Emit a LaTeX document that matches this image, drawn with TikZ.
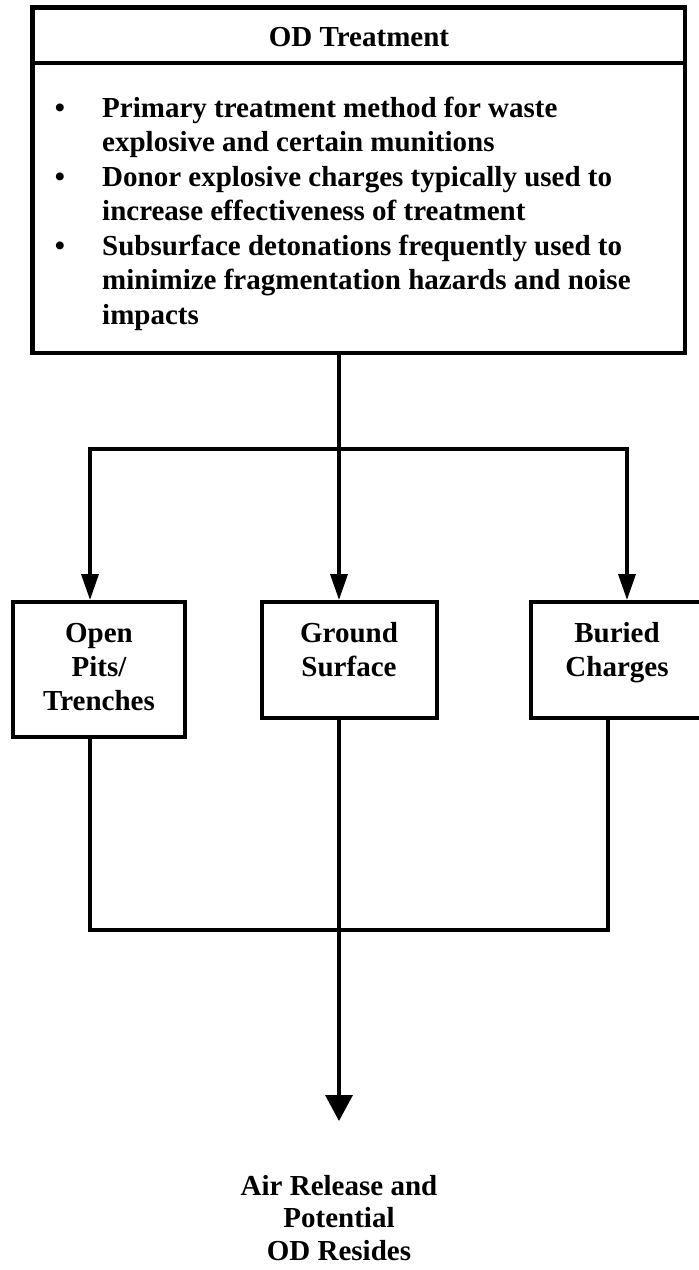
\documentclass[tikz,border=0pt]{standalone}
\usepackage{fontspec}
\setmainfont{Liberation Serif}
\usetikzlibrary{arrows.meta,calc}

\tikzset{
  box/.style={draw, line width=4pt, inner sep=0pt, fill=white},
  txt/.style={inner sep=0pt, font=\fontsize{29pt}{34.5pt}\selectfont\bfseries},
  % multi-line texts are placed by the baseline of their last line
  ctxt/.style={txt, align=center, anchor=base},
  ltxt/.style={txt, align=left, anchor=base west},
  wire/.style={line width=3.5pt, line join=miter},
  sidetip/.tip={Triangle[length=26pt, width=17pt]},
  endtip/.tip={Triangle[length=26pt, width=27pt]},
}

\begin{document}
\begin{tikzpicture}[x=1pt, y=-1pt]
  \useasboundingbox (0,0) rectangle (699,1270);

  % main treatment box with its title band
  \node[box, line width=4.4pt, minimum width=652.5pt, minimum height=345.5pt] (od) at (358.75,180.25) {};
  \draw[line width=4pt] ([yshift=-57.5pt]od.north west) -- ([yshift=-57.5pt]od.north east);
  \node[ctxt] (title) at (359,46.5) {OD Treatment};

  % bullet list
  \node[ctxt] (b1) at (60,117) {\textbullet};
  \node[ctxt] (b2) at (60,186) {\textbullet};
  \node[ctxt] (b3) at (60,255) {\textbullet};
  \node[ltxt] (l1) at (102,151.5) {Primary treatment method for waste\\explosive and certain munitions};
  \node[ltxt] (l2) at (102,220.5) {Donor explosive charges typically used to\\increase effectiveness of treatment};
  \node[ltxt] (l3) at (102,324) {Subsurface detonations frequently used to\\minimize fragmentation hazards and noise\\impacts};

  % the three detonation methods
  \node[box, minimum width=172pt, minimum height=135pt] (pits) at (99,669.5) {};
  \node[box, minimum width=175pt, minimum height=116pt] (ground) at (349.5,660) {};
  \node[box, minimum width=180pt, minimum height=116pt] (buried) at (621,660) {};
  \node[ctxt, font=\fontsize{29pt}{34pt}\selectfont\bfseries] (pitst) at (99,710) {Open\\Pits/\\Trenches};
  \node[ctxt, font=\fontsize{29pt}{34pt}\selectfont\bfseries] (groundt) at (349,676) {Ground\\Surface};
  \node[ctxt, font=\fontsize{29pt}{34pt}\selectfont\bfseries] (buriedt) at (617,676) {Buried\\Charges};

  % branch and merge points
  \coordinate (j) at (339,449);
  \coordinate (bl) at (90,449);
  \coordinate (br) at (627,449);
  \coordinate (ml) at (90,930);
  \coordinate (mc) at (339,930);
  \coordinate (mr) at (608,930);
  \coordinate (out) at (339,1121);

  % fan-out to the methods
  \draw[wire] (od.south -| j) -- (j);
  \draw[wire, sidetip-sidetip] (bl |- pits.north) -- (bl) -- (br) -- (br |- buried.north);
  \draw[wire, -sidetip] (j) -- (j |- ground.north);

  % merge to the result
  \draw[wire] (ml |- pits.south) -- (ml) -- (mr) -- (mr |- buried.south);
  \draw[wire] (mc |- ground.south) -- (mc);
  \draw[wire, -endtip] (mc) -- (out);

  \node[ctxt, font=\fontsize{29pt}{32.5pt}\selectfont\bfseries] (result) at (339,1260) {Air Release and\\Potential\\OD Resides};
\end{tikzpicture}
\end{document}
